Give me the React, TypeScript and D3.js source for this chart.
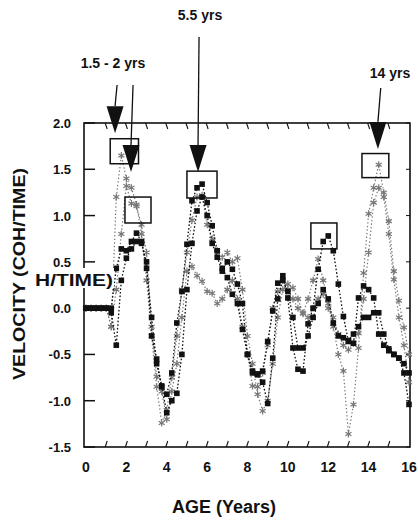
import React from "react";
import * as d3 from "d3";

// ages sampled every quarter year
const ages = [
  0, 0.25, 0.5, 0.75, 1, 1.25, 1.5, 1.75, 2, 2.25, 2.5, 2.75, 3, 3.25, 3.5, 3.75,
  4, 4.25, 4.5, 4.75, 5, 5.25, 5.5, 5.75, 6, 6.25, 6.5, 6.75, 7, 7.25, 7.5, 7.75,
  8, 8.25, 8.5, 8.75, 9, 9.25, 9.5, 9.75, 10, 10.25, 10.5, 10.75, 11, 11.25, 11.5, 11.75,
  12, 12.25, 12.5, 12.75, 13, 13.25, 13.5, 13.75, 14, 14.25, 14.5, 14.75, 15, 15.25, 15.5, 15.75, 16,
];

// black squares, series A
const squaresA = [
  0, 0, 0, 0, 0, 0, 0.43, 0.64, 0.62, 0.72, 0.81, 0.72, 0.43, -0.1, -0.6, -0.84,
  -0.93, -0.7, -0.16, 0.18, 0.69, 1.16, 1.3, 1.34, 1.14, 0.89, 0.62, 0.43, 0.33, 0.15, 0.05, -0.23,
  -0.5, -0.68, -0.71, -0.68, -0.36, -0.03, 0.27, 0.35, 0.11, -0.43, -0.66, -0.68, -0.17, 0.0, 0.42, 0.72,
  0.78, 0.62, 0.26, -0.09, -0.36, -0.38, 0.11, 0.24, 0.2, 0.11, -0.28, -0.4, -0.46, -0.5, -0.54, -0.6, -0.7,
];

// black squares, series B
const squaresB = [
  0, 0, 0, 0, 0, -0.05, -0.4, 0.3, 0.54, 0.64, 0.72, 0.7, 0.5, -0.3, -0.55, -0.85,
  -1.13, -1.0, -0.92, -0.5, 0.2, 0.7, 1.05, 1.2, 1.0, 0.7, 0.55, 0.4, 0.5, 0.42, 0.26, 0.05,
  -0.5, -0.7, -0.72, -0.8, -1.03, -0.54, 0.1, 0.3, 0.18, -0.1, -0.43, -0.43, -0.3, -0.1, 0.05, 0.2,
  0.1, -0.16, -0.3, -0.32, -0.35, -0.28, -0.2, -0.1, -0.1, -0.05, -0.05, -0.28, -0.44, -0.5, -0.54, -0.7, -1.04,
];

// grey asterisks, series C
const starsC = [
  0, 0, 0, 0, 0, -0.2, 1.2, 1.65, 1.4, 1.3, 1.12, 0.8, 0.3, -0.3, -0.85, -1.24,
  -1.1, -0.75, -0.3, 0.2, 0.6, 0.95, 1.2, 1.22, 0.9, 0.75, 0.62, 0.55, 0.6, 0.5, 0.54, 0.2,
  -0.3, -0.6, -0.93, -1.11, -1.0, -0.6, -0.1, 0.2, 0.26, 0.22, 0.1, -0.06, 0.1, 0.3, 0.53, 0.3,
  0.05, -0.2, -0.5, -0.68, -1.36, -1.04, -0.43, 0.38, 1.02, 1.3, 1.55, 1.25, 0.94, 0.4, 0.08, -0.21, -0.5,
];

// grey asterisks, series D
const starsD = [
  0, 0, 0, 0, 0, -0.2, 0.2, 0.8, 1.32, 1.13, 1.1, 0.9, 0.6, -0.2, -0.74, -0.9,
  -1.2, -0.9, -0.6, -0.1, 0.4, 0.45, 0.35, 0.29, 0.18, 0.16, 0.05, 0.1, 0.2, 0.3, 0.1, -0.2,
  -0.5, -0.84, -0.85, -0.7, -0.4, 0.0, 0.18, 0.3, 0.2, 0.1, 0.0, -0.05, -0.1, 0.0, 0.1, 0.15,
  0.0, -0.1, -0.28, -0.4, -0.45, -0.38, -0.27, 0.1, 0.6, 1.14, 1.3, 1.2, 0.8, 0.31, -0.1, -0.4, -0.8,
];

const yTicks = [-1.5, -1.0, -0.5, 0.0, 0.5, 1.0, 1.5, 2.0];
const xTicks = [0, 2, 4, 6, 8, 10, 12, 14, 16];
const yearTicks = [1, 2, 3, 4, 5, 6, 7, 8, 9, 10, 11, 12, 13, 14, 15];

// highlight boxes: [age0, age1, v0, v1]
const boxes = [
  [1.2, 2.6, 1.56, 1.83],
  [1.93, 3.22, 0.92, 1.2],
  [5.0, 6.49, 1.19, 1.48],
  [11.14, 12.43, 0.64, 0.92],
  [13.67, 15.0, 1.41, 1.67],
];

// arrows: tip age, tip value, age of top of shaft
const arrowTips = [
  { age: 1.44, v: 1.89, topAge: 1.54, topY: 85 },
  { age: 2.23, v: 1.47, topAge: 2.33, topY: 85 },
  { age: 5.55, v: 1.47, topAge: 5.6, topY: 37 },
  { age: 14.46, v: 1.72, topAge: 14.6, topY: 88 },
];

const notes = [
  { text: "5.5 yrs", x: 200, y: 20 },
  { text: "1.5 - 2 yrs", x: 113, y: 68 },
  { text: "14 yrs", x: 390, y: 78 },
];

const W = 418;
const H = 520;
const font = "Arial, 'Liberation Sans', sans-serif";

export default function App() {
  const x = d3.scaleLinear().domain([0, 16]).range([86, 409]);
  const y = d3.scaleLinear().domain([-1.5, 2]).range([447, 123]);
  const left = 84;
  const right = 410;
  const top = 123;
  const bottom = 447;

  const line = d3
    .line<number>()
    .x((_, i) => x(ages[i]))
    .y((d) => y(d));

  const star = d3.symbol(d3.symbolAsterisk, 34)() || "";

  const greySeries = [starsC, starsD];
  const blackSeries = [squaresA, squaresB];

  return (
    <svg width={W} height={H} style={{ position: "absolute", left: 0, top: 0, background: "#fff" }}>
      <rect width={W} height={H} fill="#fff" />

      {/* frame */}
      <rect x={left} y={top} width={right - left} height={bottom - top} fill="none" stroke="#111" strokeWidth={1.6} />

      {/* left major ticks */}
      {yTicks.map((t) => (
        <g key={"yl" + t}>
          <line x1={left} x2={left + 11} y1={y(t)} y2={y(t)} stroke="#111" strokeWidth={1.5} />
          <line x1={right} x2={right - 4} y1={y(t)} y2={y(t)} stroke="#111" strokeWidth={1} />
          <text x={71} y={y(t) + 5} textAnchor="end" fontFamily={font} fontWeight="bold" fontSize={13} fill="#111">
            {t.toFixed(1)}
          </text>
        </g>
      ))}

      {/* slanted minor ticks, top and bottom */}
      {yearTicks.map((t) => (
        <g key={"yt" + t}>
          <line x1={x(t) - 1} x2={x(t) + 1} y1={top} y2={top + 6} stroke="#111" strokeWidth={1.1} />
          <line x1={x(t) - 1} x2={x(t) + 1} y1={bottom} y2={bottom - 6} stroke="#111" strokeWidth={1.1} />
        </g>
      ))}

      {xTicks.map((t) => (
        <text key={"xl" + t} x={x(t)} y={472} textAnchor="middle" fontFamily={font} fontWeight="bold" fontSize={14} fill="#111">
          {t}
        </text>
      ))}

      {/* grey asterisk series */}
      {greySeries.map((s, si) => (
        <g key={"g" + si}>
          <path d={line(s) || ""} fill="none" stroke="#777" strokeWidth={1.2} strokeDasharray="1.4 2.2" />
          {s.map((v, i) => (
            <path
              key={i}
              d={star}
              transform={`translate(${x(ages[i])},${y(v)})`}
              fill="none"
              stroke="#777"
              strokeWidth={1.2}
            />
          ))}
        </g>
      ))}

      {/* black square series */}
      {blackSeries.map((s, si) => (
        <g key={"b" + si}>
          <path d={line(s) || ""} fill="none" stroke="#111" strokeWidth={1.3} strokeDasharray="1.6 2" />
          {s.map((v, i) => (
            <rect key={i} x={x(ages[i]) - 2.8} y={y(v) - 2.8} width={5.6} height={5.6} fill="#111" />
          ))}
        </g>
      ))}

      {/* highlight boxes */}
      {boxes.map((b, i) => (
        <rect
          key={"box" + i}
          x={x(b[0])}
          y={y(b[3])}
          width={x(b[1]) - x(b[0])}
          height={y(b[2]) - y(b[3])}
          fill="none"
          stroke="#111"
          strokeWidth={1.5}
        />
      ))}

      {/* arrows */}
      {arrowTips.map((a, i) => {
        const tx = x(a.age);
        const ty = y(a.v);
        const headTop = ty - 27;
        return (
          <g key={"ar" + i}>
            <line x1={x(a.topAge)} y1={a.topY} x2={tx} y2={headTop} stroke="#111" strokeWidth={1.3} />
            <path d={`M${tx - 8.5},${headTop} L${tx + 8.5},${headTop} L${tx},${ty} Z`} fill="#111" />
          </g>
        );
      })}

      {notes.map((n) => (
        <text key={n.text} x={n.x} y={n.y} textAnchor="middle" fontFamily={font} fontWeight="bold" fontSize={14} fill="#111">
          {n.text}
        </text>
      ))}

      {/* axis titles */}
      <text
        transform={`translate(25,274) rotate(-90)`}
        textAnchor="middle"
        fontFamily={font}
        fontWeight="bold"
        fontSize={17}
        textLength={212}
        lengthAdjust="spacingAndGlyphs"
        fill="#111"
      >
        VELOCITY (COH/TIME)
      </text>
      <rect x={35} y={268} width={79} height={20} fill="#fff" />
      <text x={35} y={286} fontFamily={font} fontWeight="bold" fontSize={17} textLength={78} lengthAdjust="spacingAndGlyphs" fill="#111">
        H/TIME)
      </text>
      <text x={224} y={513} textAnchor="middle" fontFamily={font} fontWeight="bold" fontSize={18} fill="#111">
        AGE (Years)
      </text>
    </svg>
  );
}
